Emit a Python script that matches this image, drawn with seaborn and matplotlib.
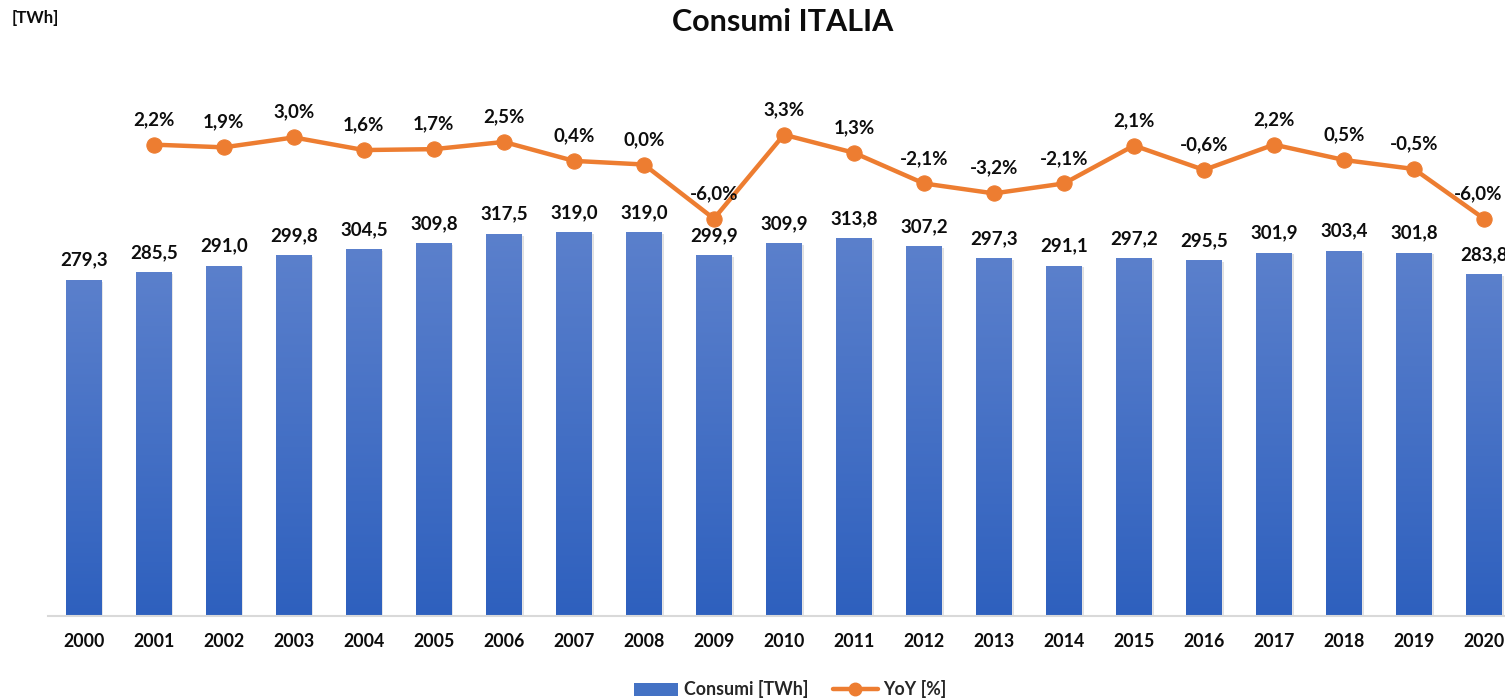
import numpy as np
import pandas as pd
import matplotlib
matplotlib.use("Agg")
import matplotlib.pyplot as plt
import seaborn as sns
from matplotlib.colors import LinearSegmentedColormap
from matplotlib.lines import Line2D
from matplotlib.patches import Patch

years = [str(y) for y in range(2000, 2021)]
consumi = [279.3, 285.5, 291.0, 299.8, 304.5, 309.8, 317.5, 319.0, 319.0, 299.9,
           309.9, 313.8, 307.2, 297.3, 291.1, 297.2, 295.5, 301.9, 303.4, 301.8, 283.8]
yoy = [np.nan, 2.2, 1.9, 3.0, 1.6, 1.7, 2.5, 0.4, 0.0, -6.0,
       3.3, 1.3, -2.1, -3.2, -2.1, 2.1, -0.6, 2.2, 0.5, -0.5, -6.0]

df = pd.DataFrame({"anno": years, "consumi": consumi, "yoy": yoy})
df["pos"] = range(len(df))

sns.set_style("white")
plt.rcParams["font.family"] = ["Lato", "DejaVu Sans"]
plt.rcParams["font.weight"] = "bold"

blue_top = "#5B80CC"
blue_bot = "#2E60BE"
orange = "#ED7D31"

fig = plt.figure(figsize=(15.05, 7), dpi=100)
ax = fig.add_axes([0.032, 0.12, 0.968, 0.774])

sns.barplot(data=df, x="anno", y="consumi", color=blue_bot, width=0.5,
            saturation=1, ax=ax)

# gradiente verticale sulle barre
cmap = LinearSegmentedColormap.from_list("grad", [blue_bot, blue_top])
grad = np.linspace(0, 1, 256).reshape(-1, 1)
for bar in ax.patches:
    x0, y0 = bar.get_x(), bar.get_y()
    w, h = bar.get_width(), bar.get_height()
    # ombra leggera
    ax.add_patch(plt.Rectangle((x0 + 0.03, y0), w, h - 1.5, color="#000000",
                               alpha=0.12, zorder=1.5, lw=0))
    im = ax.imshow(grad, extent=[x0, x0 + w, y0, y0 + h], origin="lower",
                   cmap=cmap, aspect="auto", zorder=2)
    im.set_clip_path(bar)
    bar.set_zorder(1.8)

for i, v in enumerate(consumi):
    ax.annotate(f"{v:.1f}".replace(".", ","), (i, v), xytext=(0, 8),
                textcoords="offset points", ha="center", va="bottom",
                fontsize=13.5, fontweight="bold", color="#0D0D0D")

ax.set_ylim(0, 450)
ax.set_xlim(-0.51, 20.3)
ax.set_yticks([])
ax.set_xlabel("")
ax.set_ylabel("")
for s in ["top", "right", "left"]:
    ax.spines[s].set_visible(False)
ax.spines["bottom"].set_color("#D9D9D9")
ax.spines["bottom"].set_linewidth(1.5)
ax.tick_params(axis="x", length=0, pad=12, labelsize=12.8, labelcolor="#0D0D0D")
for lab in ax.get_xticklabels():
    lab.set_fontweight("bold")

ax2 = ax.twinx()
sns.lineplot(data=df, x="pos", y="yoy", color=orange, linewidth=3.2,
             marker="o", markersize=11, markeredgecolor=orange, ax=ax2)
ax2.set_ylim(-50, 10)
ax2.set_yticks([])
ax2.set_ylabel("")
ax2.set_xlabel("")
for s in ax2.spines.values():
    s.set_visible(False)

last = len(yoy) - 1
for i, v in enumerate(yoy):
    if np.isnan(v):
        continue
    dx = -4 if i == last else 0
    ax2.annotate(f"{v:.1f}%".replace(".", ","), (i, v), xytext=(dx, 12),
                 textcoords="offset points", ha="center", va="bottom",
                 fontsize=13.5, fontweight="bold", color="#0D0D0D")

fig.text(0.52, 0.968, "Consumi ITALIA", ha="center", va="center",
         fontsize=22, fontweight="bold", color="#0D0D0D")
fig.text(0.008, 0.974, "[TWh]", ha="left", va="center", fontsize=12,
         fontweight="bold", color="#0D0D0D")

handles = [Patch(facecolor="#4472C4", edgecolor="none"),
           Line2D([], [], color=orange, lw=3.2, marker="o", markersize=9)]
fig.legend(handles, ["Consumi [TWh]", "YoY [%]"], loc="center",
           bbox_to_anchor=(0.525, 0.015), ncol=2, frameon=False,
           fontsize=12.8, handlelength=2.5, handletextpad=0.3,
           columnspacing=1.4)

fig.savefig("out.png", dpi=100)
